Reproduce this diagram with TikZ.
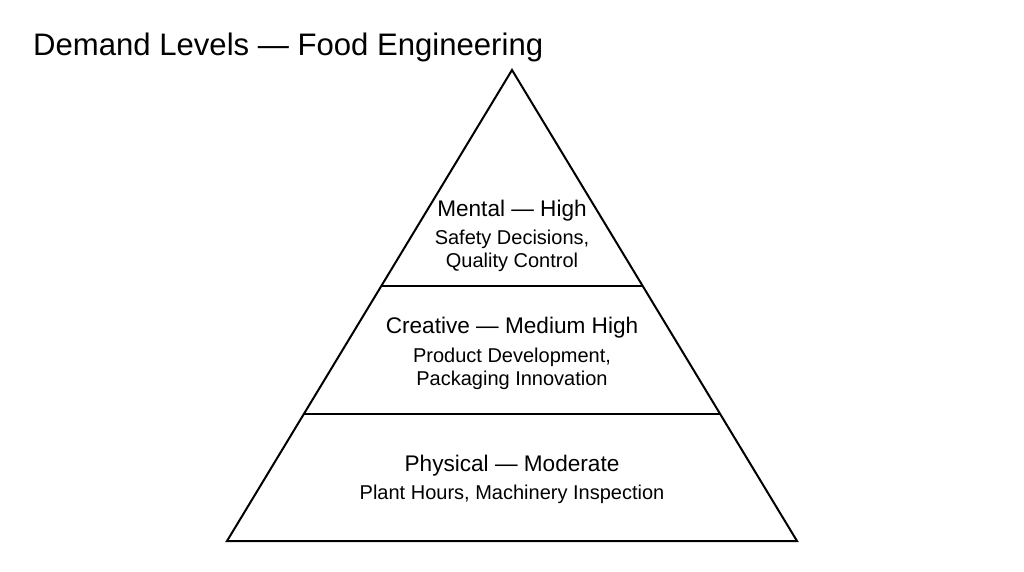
\documentclass[tikz,border=0pt]{standalone}
\usepackage{fontspec}
\setmainfont{Liberation Sans}
\begin{document}
\begin{tikzpicture}[x=1pt,y=-1pt,
  edge/.style={draw=black,line width=2pt,line join=miter},
  head/.style={font=\fontsize{22.6}{25}\selectfont,anchor=base,inner sep=0pt},
  sub/.style={font=\fontsize{20}{23}\selectfont,anchor=base,inner sep=0pt},
  title/.style={font=\fontsize{31.1}{35}\selectfont,anchor=base west,inner sep=0pt}]
\useasboundingbox[fill=white] (0,0) rectangle (1024,572);
\coordinate (apex) at (512,70);
\coordinate (bl) at (227,541);
\coordinate (br) at (797,541);
\coordinate (l1) at (381.3,286);
\coordinate (r1) at (642.7,286);
\coordinate (l2) at (303.8,414);
\coordinate (r2) at (720.2,414);
\draw[edge] (apex) -- (bl) -- (br) -- cycle;
\draw[edge] (l1) -- (r1);
\draw[edge] (l2) -- (r2);
\node[title] (t) at (33,56) {Demand Levels — Food Engineering};
\node[head] (m) at (512,216) {Mental — High};
\node[sub] (m1) at (512,244) {Safety Decisions,};
\node[sub] (m2) at (512,267) {Quality Control};
\node[head] (c) at (512,333) {Creative — Medium High};
\node[sub] (c1) at (512,362) {Product Development,};
\node[sub] (c2) at (512,385) {Packaging Innovation};
\node[head] (p) at (512,471) {Physical — Moderate};
\node[sub] (p1) at (512,499) {Plant Hours, Machinery Inspection};
\end{tikzpicture}
\end{document}
